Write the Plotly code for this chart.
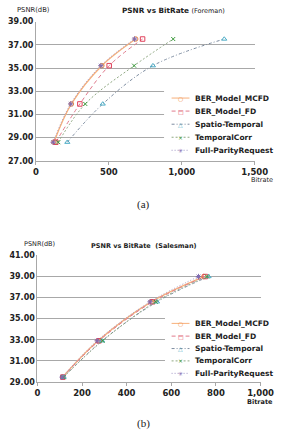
import plotly.graph_objects as go

W, H = 292, 443

# ---------------- data ----------------
series_names = ["BER_Model_MCFD", "BER_Model_FD", "Spatio-Temporal", "TemporalCorr", "Full-ParityRequest"]

# Foreman (a)
foreman_psnr = [28.6, 31.9, 35.2, 37.5]
foreman_mcfd = [123, 243, 452, 684]
foreman_fd = [136, 301, 502, 731]
foreman_spatio = [215, 458, 802, 1291]
foreman_tc = [153, 338, 673, 941]
foreman_fpr = [118, 238, 445, 676]

# Salesman (b)
salesman_psnr = [29.45, 32.9, 36.6, 39.0]
salesman_mcfd = [113, 272, 510, 746]
salesman_fd = [114, 276, 516, 752]
salesman_spatio = [118, 290, 536, 767]
salesman_tc = [117, 292, 530, 760]
salesman_fpr = [111, 268, 505, 722]

foreman_x_ticks = [0, 500, 1000, 1500]
foreman_y_ticks = [27, 29, 31, 33, 35, 37, 39]
salesman_x_ticks = [0, 200, 400, 600, 800, 1000]
salesman_y_ticks = [29, 31, 33, 35, 37, 39, 41]

# ---------------- styles ----------------
styles = [
    dict(color="#F7B07A", dash="solid", width=1.3, symbol="circle-open", mcolor="#F08A3C", msize=4.5, glyph="○"),
    dict(color="#E07A8C", dash="4px,3px", width=1, symbol="square-open", mcolor="#E0405A", msize=4.5, glyph="□"),
    dict(color="#7D8CA0", dash="3px,2px,1px,2px", width=1, symbol="triangle-up-open", mcolor="#4BACC6", msize=4.5, glyph="△"),
    dict(color="#8FA882", dash="2px,2px", width=1, symbol="x-thin-open", mcolor="#3C9A3C", msize=4, glyph="×"),
    dict(color="#A095C5", dash="1px,2px", width=1, symbol="asterisk-open", mcolor="#7F6BB0", msize=4.5, glyph="✳"),
]


def px(x):
    return x / W


def py(y):
    return 1 - y / H


fig = go.Figure()

foreman = [foreman_mcfd, foreman_fd, foreman_spatio, foreman_tc, foreman_fpr]
salesman = [salesman_mcfd, salesman_fd, salesman_spatio, salesman_tc, salesman_fpr]

for name, xs, st in zip(series_names, foreman, styles):
    fig.add_trace(go.Scatter(
        x=xs, y=foreman_psnr, name=name, mode="lines+markers", xaxis="x", yaxis="y",
        line=dict(color=st["color"], dash=st["dash"], width=st["width"], shape="spline"),
        marker=dict(symbol=st["symbol"], color=st["mcolor"], size=st["msize"], line=dict(width=1, color=st["mcolor"])),
        showlegend=False))

for name, xs, st in zip(series_names, salesman, styles):
    fig.add_trace(go.Scatter(
        x=xs, y=salesman_psnr, name=name, mode="lines+markers", xaxis="x2", yaxis="y2",
        line=dict(color=st["color"], dash=st["dash"], width=st["width"], shape="spline"),
        marker=dict(symbol=st["symbol"], color=st["mcolor"], size=st["msize"], line=dict(width=1, color=st["mcolor"])),
        showlegend=False))

tickfont_y = dict(family="DejaVu Sans", size=8, color="#222222", weight="bold")
tickfont_x = dict(family="DejaVu Sans", size=8.5, color="#222222", weight="bold")
grid = "#A8A8A8"

fig.update_layout(
    width=W, height=H,
    margin=dict(l=0, r=0, t=0, b=0),
    paper_bgcolor="white", plot_bgcolor="white",
    showlegend=False,
    xaxis=dict(domain=[px(35), px(267.3)], range=[0, 1500], tickvals=foreman_x_ticks, tickformat=",",
               showgrid=False, zeroline=False, showline=True, linecolor=grid, linewidth=1,
               ticks="outside", ticklen=3, tickcolor=grid, tickfont=tickfont_x, anchor="y"),
    yaxis=dict(domain=[py(160), py(18)], range=[27, 39], tickvals=foreman_y_ticks, tickformat=".2f",
               showgrid=True, gridcolor=grid, gridwidth=1, zeroline=False, showline=True, linecolor=grid,
               linewidth=1, ticks="", tickfont=tickfont_y, anchor="x"),
    xaxis2=dict(domain=[px(36.5), px(273.5)], range=[0, 1000], tickvals=salesman_x_ticks, tickformat=",",
                showgrid=False, zeroline=False, showline=True, linecolor=grid, linewidth=1,
                ticks="outside", ticklen=3, tickcolor=grid, tickfont=tickfont_x, anchor="y2"),
    yaxis2=dict(domain=[py(385.7), py(256.7)], range=[29, 41], tickvals=salesman_y_ticks, tickformat=".2f",
                showgrid=True, gridcolor=grid, gridwidth=1, zeroline=False, showline=True, linecolor=grid,
                linewidth=1, ticks="", tickfont=tickfont_y, anchor="x2"),
)

shapes = []
annotations = []

# legend boxes (white background over gridlines)
shapes.append(dict(type="rect", xref="paper", yref="paper", x0=px(171), x1=px(292), y0=py(157), y1=py(86),
                   fillcolor="white", line=dict(width=0), layer="above"))
shapes.append(dict(type="rect", xref="paper", yref="paper", x0=px(172), x1=px(292), y0=py(383), y1=py(318),
                   fillcolor="white", line=dict(width=0), layer="above"))


def add_legend(rows_y):
    for name, st, yy in zip(series_names, styles, rows_y):
        shapes.append(dict(type="line", xref="paper", yref="paper", x0=px(179), x1=px(198), y0=py(yy), y1=py(yy),
                           line=dict(color=st["color"], dash=st["dash"], width=1),
                           layer="above"))
        annotations.append(dict(x=px(188.5), y=py(yy), xref="paper", yref="paper", text=st["glyph"],
                                showarrow=False, xanchor="center", yanchor="middle",
                                font=dict(family="DejaVu Sans", size=6, color=st["mcolor"])))
        annotations.append(dict(x=px(201.5), y=py(yy), xref="paper", yref="paper", text=name,
                                showarrow=False, xanchor="left", yanchor="middle",
                                font=dict(family="DejaVu Sans", size=7.5, color="#222222", weight="bold")))


add_legend([96, 109.3, 122.7, 136, 149.3])
add_legend([326, 339, 351.7, 364.3, 377])

# titles / axis labels
annotations += [
    dict(x=px(181), y=py(6.5), xref="paper", yref="paper", showarrow=False, xanchor="center", yanchor="middle",
         text="<b>PSNR vs BitRate</b> <span style='font-size:6.5px'>(Foreman)</span>",
         font=dict(family="DejaVu Sans", size=7.3, color="#222222")),
    dict(x=px(12.5), y=py(6.5), xref="paper", yref="paper", showarrow=False, xanchor="left", yanchor="middle",
         text="PSNR(dB)", font=dict(family="DejaVu Sans", size=6.8, color="#222222")),
    dict(x=px(289), y=py(180), xref="paper", yref="paper", showarrow=False, xanchor="right", yanchor="middle",
         text="Bitrate", font=dict(family="DejaVu Sans", size=6.5, color="#222222")),
    dict(x=px(149), y=py(205), xref="paper", yref="paper", showarrow=False, xanchor="center", yanchor="middle",
         text="(a)", font=dict(family="Liberation Serif", size=11, color="#222222")),
    dict(x=px(150), y=py(247.5), xref="paper", yref="paper", showarrow=False, xanchor="center", yanchor="middle",
         text="<b>PSNR vs BitRate  (Salesman)</b>",
         font=dict(family="DejaVu Sans", size=6.5, color="#222222")),
    dict(x=px(20), y=py(245), xref="paper", yref="paper", showarrow=False, xanchor="left", yanchor="middle",
         text="PSNR(dB)", font=dict(family="DejaVu Sans", size=6.5, color="#222222")),
    dict(x=px(289), y=py(406.5), xref="paper", yref="paper", showarrow=False, xanchor="right", yanchor="middle",
         text="<b>Bitrate</b>", font=dict(family="DejaVu Sans", size=6.5, color="#222222")),
    dict(x=px(149), y=py(428), xref="paper", yref="paper", showarrow=False, xanchor="center", yanchor="middle",
         text="(b)", font=dict(family="Liberation Serif", size=11, color="#222222")),
]

fig.update_layout(shapes=shapes, annotations=annotations)

fig.write_html("out.html")
